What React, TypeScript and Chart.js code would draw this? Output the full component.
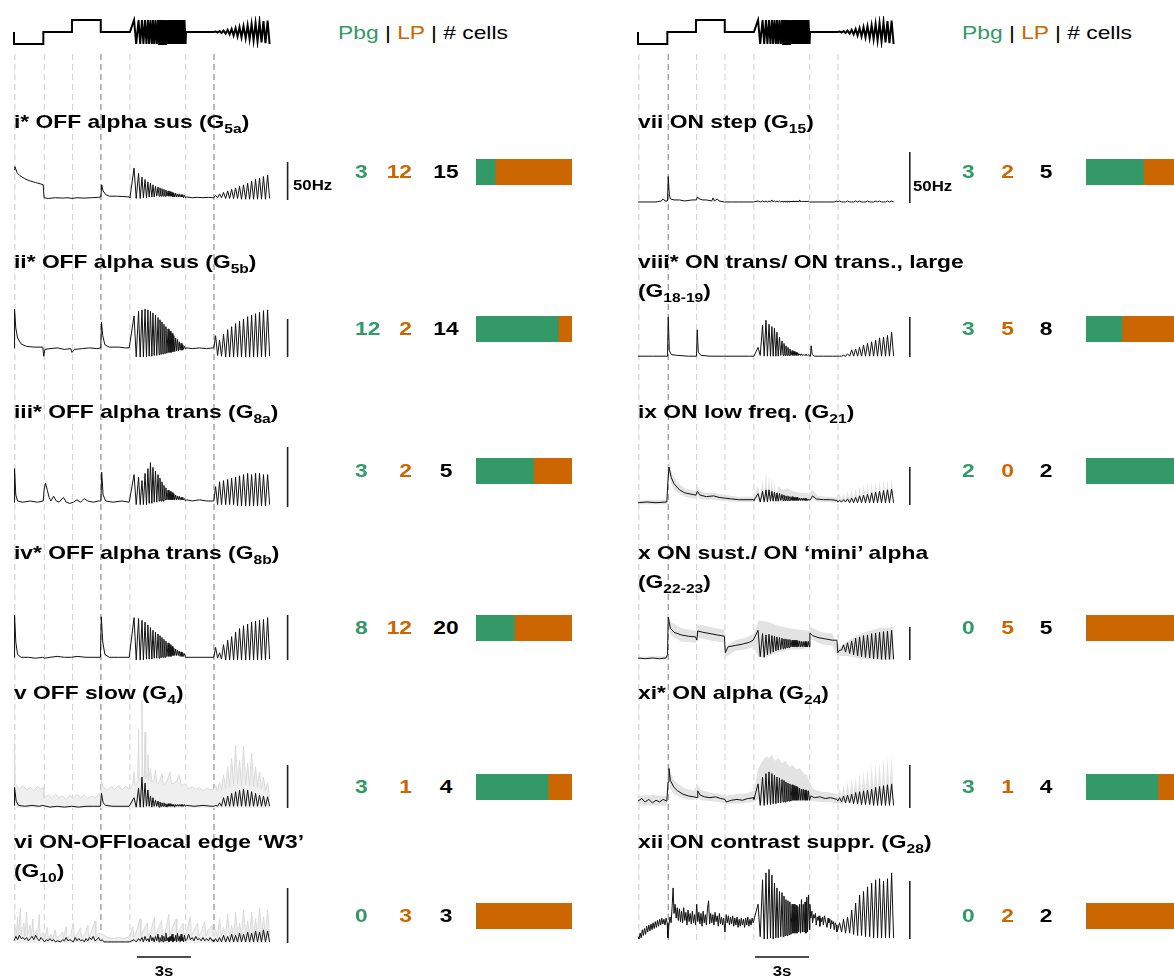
import React, { useEffect, useRef } from 'react';
import { Chart, registerables } from 'chart.js';
Chart.register(...registerables);

const GREEN = '#339966';
const ORANGE = '#cc6600';
const FONT = '"Liberation Sans", Arial, Helvetica, sans-serif';

// ---------- shared sample times (s) ----------
const FM_T = [6.44, 6.67, 6.79, 6.92, 7.01, 7.11, 7.19, 7.28, 7.36, 7.44, 7.51, 7.58, 7.66, 7.72, 7.79, 7.86, 7.93, 8.0, 8.06, 8.11, 8.17, 8.22, 8.28, 8.33, 8.39, 8.44, 8.5, 8.56, 8.61, 8.67, 8.72, 8.78, 8.83, 8.88, 8.93, 8.98, 9.03, 9.08, 9.13, 9.18, 9.23, 9.28, 9.33, 9.38, 9.42, 9.47, 9.53];
const AM_T = [11.1, 11.2, 11.31, 11.42, 11.53, 11.64, 11.76, 11.87, 11.98, 12.09, 12.2, 12.31, 12.42, 12.53, 12.64, 12.75, 12.87, 12.98, 13.09, 13.2, 13.31, 13.42, 13.53, 13.64, 13.75, 13.86, 13.97, 14.09, 14.2];
const DASH_T = [0.05, 1.68, 3.26, 4.83, 6.44, 9.54, 11.11];
const DARK_DASH = [[4.83, 11.11], [1.68]];

// ---------- stimulus (normalised intensity) ----------
const STIM_STEP = [[0, 0.5], [0, 0], [1.63, 0], [1.63, 0.5], [3.22, 0.5], [3.22, 1], [4.82, 1], [4.82, 0.5], [6.44, 0.5]];
const STIM_FM_PK = [1, 1, 1, 1, 1, 1, 1, 1, 1, 1, 1, 1, 1, 1, 1, 1, 1, 1, 1, 1, 1, 1, 1];
const STIM_FM_TR = [0.5, 0, 0, 0, 0, 0, 0, 0, 0, 0, 0, 0, 0, 0, 0, 0, 0, 0, 0, 0, 0, 0, 0, 0];
const STIM_MID = [[9.56, 0.5], [11.1, 0.5]];
const STIM_AM_PK = [0.52, 0.54, 0.56, 0.59, 0.62, 0.66, 0.7, 0.74, 0.78, 0.83, 0.87, 0.91, 0.95, 0.98];
const STIM_AM_TR = [0.5, 0.48, 0.46, 0.43, 0.4, 0.36, 0.32, 0.28, 0.24, 0.2, 0.15, 0.11, 0.07, 0.03, 0.0];

// ---------- cell counts ----------
const PBG = [3, 12, 3, 8, 3, 0, 3, 3, 2, 0, 3, 0];
const LP = [12, 2, 2, 12, 1, 3, 2, 5, 0, 5, 1, 2];
const TOTAL = [15, 14, 5, 20, 4, 3, 5, 8, 2, 5, 4, 2];

const TITLE_PRE = [
  'i* OFF alpha sus (G', 'ii* OFF alpha sus (G', 'iii* OFF alpha trans (G', 'iv* OFF alpha trans (G', 'v OFF slow (G', 'vi ON-OFFloacal edge \u2018W3\u2019\n(G',
  'vii ON step (G', 'viii* ON trans/ ON trans., large\n(G', 'ix ON low freq. (G', 'x ON sust./ ON \u2018mini\u2019 alpha\n(G', 'xi* ON alpha (G', 'xii ON contrast suppr. (G',
];
const TITLE_SUB = ['5a', '5b', '8a', '8b', '4', '10', '15', '18-19', '21', '22-23', '24', '28'];

// ---------- responses (Hz) ----------
const I_STEP = [[0, 40], [0.05, 44], [0.17, 36], [0.33, 32], [0.6, 28], [0.9, 25], [1.2, 23], [1.5, 21], [1.62, 20], [1.67, 3], [1.9, 2], [2.3, 3], [2.7, 2.5], [3.0, 3], [3.22, 2], [3.5, 3], [3.9, 2.5], [4.3, 3], [4.7, 3.5], [4.83, 4], [4.87, 20], [4.95, 12], [5.1, 7], [5.3, 5], [5.7, 5], [6.1, 4.5], [6.4, 4]];
const I_FM_PK = [42, 35, 30, 27, 24, 22, 20, 18, 17, 16, 15, 14, 13, 12, 11, 10, 9, 9, 8, 8, 7, 7, 6];
const I_FM_TR = [3, 2, 2, 3, 3, 4, 4, 4, 5, 5, 5, 5, 5, 5, 5, 5, 4, 4, 4, 4, 4, 4, 3, 3];
const I_MID = [[9.6, 4], [9.9, 3], [10.2, 3.5], [10.5, 3], [10.8, 3.5], [11.05, 3]];
const I_AM_PK = [6, 8, 10, 12, 14, 16, 18, 20, 22, 25, 27, 29, 31, 33];
const I_AM_TR = [3, 3, 3, 2, 2, 2, 2, 1, 1, 1, 1, 1, 1, 1, 2];

const II_STEP = [[0, 12], [0.03, 63], [0.1, 38], [0.2, 25], [0.4, 17], [0.7, 14], [1.1, 13], [1.6, 13], [1.65, 1], [1.72, 10], [2.0, 11], [2.4, 12], [2.8, 10], [3.15, 11], [3.22, 6], [3.35, 10], [3.8, 11], [4.2, 12], [4.6, 11], [4.82, 12], [4.86, 46], [4.93, 28], [5.05, 16], [5.3, 13], [5.8, 13], [6.2, 12], [6.4, 12]];
const II_FM_PK = [54, 60, 62, 63, 62, 60, 58, 55, 52, 49, 46, 43, 40, 37, 34, 31, 28, 25, 23, 20, 18, 16, 14];
const II_FM_TR = [12, 0, 0, 0, 0, 1, 1, 2, 2, 3, 4, 4, 5, 5, 6, 6, 7, 7, 8, 8, 9, 9, 10, 11];
const II_MID = [[9.6, 12], [9.9, 11], [10.3, 12], [10.7, 11], [11.05, 12]];
const II_AM_PK = [28, 22, 30, 36, 40, 44, 47, 50, 53, 55, 57, 59, 61, 62];
const II_AM_TR = [12, 2, 1, 0, 0, 0, 0, 0, 0, 0, 0, 0, 0, 0, 1];

const III_STEP = [[0, 4], [0.03, 32], [0.1, 10], [0.2, 5], [0.5, 4], [0.9, 5], [1.3, 4], [1.62, 5], [1.68, 15], [1.75, 20], [1.85, 14], [1.95, 8], [2.05, 5], [2.2, 9], [2.35, 5], [2.5, 4], [2.75, 8], [2.9, 4], [3.1, 3], [3.3, 4], [3.5, 6], [3.7, 4], [3.9, 7], [4.1, 5], [4.4, 4], [4.7, 5], [4.83, 5], [4.87, 29], [4.95, 10], [5.1, 5], [5.5, 4], [6.0, 5], [6.4, 4]];
const III_FM_PK = [27, 25, 22, 28, 32, 37, 33, 30, 27, 24, 21, 18, 16, 14, 13, 12, 11, 10, 9, 9, 8, 8, 7];
const III_FM_TR = [4, 2, 2, 2, 2, 3, 3, 4, 4, 5, 5, 5, 6, 6, 6, 6, 6, 6, 6, 6, 6, 6, 6, 5];
const III_MID = [[9.6, 6], [9.9, 5], [10.3, 6], [10.7, 5], [11.05, 5]];
const III_AM_PK = [17, 21, 22, 23, 24, 25, 26, 27, 28, 27, 28, 28, 27, 27];
const III_AM_TR = [5, 2, 2, 2, 2, 2, 1, 1, 1, 1, 1, 1, 1, 1, 2];

const IV_STEP = [[0, 3], [0.03, 50], [0.1, 20], [0.2, 6], [0.4, 3], [0.8, 3], [1.2, 2], [1.6, 3], [1.7, 2], [2.0, 3], [2.4, 4], [2.8, 3], [3.2, 3], [3.5, 4], [4.0, 3], [4.5, 3], [4.8, 3], [4.85, 48], [4.93, 20], [5.05, 6], [5.3, 3], [5.8, 3], [6.4, 3]];
const IV_FM_PK = [47, 46, 44, 42, 39, 36, 33, 31, 29, 27, 25, 23, 21, 19, 17, 15, 13, 12, 11, 10, 9, 8, 7];
const IV_FM_TR = [3, 0, 0, 0, 1, 1, 1, 2, 2, 2, 3, 3, 3, 4, 4, 4, 5, 5, 5, 5, 4, 4, 4, 3];
const IV_MID = [[9.6, 3], [10.0, 3], [10.5, 3], [11.0, 3]];
const IV_AM_PK = [14, 8, 17, 22, 26, 31, 35, 38, 40, 42, 43, 44, 45, 47];
const IV_AM_TR = [3, 2, 1, 0, 0, 0, 0, 0, 0, 0, 0, 0, 0, 0, 1];

const V_STEP = [[0, 3], [0.03, 24], [0.12, 8], [0.25, 3], [0.6, 2], [1.0, 3], [1.4, 2], [1.6, 3], [2.0, 1], [2.4, 2], [2.8, 1], [3.2, 2], [3.6, 1], [4.0, 2], [4.4, 2], [4.8, 2], [4.86, 17], [4.95, 6], [5.1, 3], [5.5, 2], [6.0, 2], [6.4, 2]];
const V_FM_PK = [12, 23, 36, 29, 21, 14, 12, 9, 8, 7, 6, 6, 5, 5, 5, 4, 4, 4, 4, 4, 4, 4, 4];
const V_FM_TR = [2, 1, 1, 1, 2, 2, 1, 2, 2, 1, 2, 2, 2, 1, 2, 2, 2, 1, 2, 2, 2, 2, 2, 2];
const V_MID = [[9.6, 3], [10.0, 2], [10.5, 3], [11.0, 2]];
const V_AM_PK = [3, 6, 12, 14, 17, 19, 21, 22, 21, 19, 17, 15, 14, 13];
const V_AM_TR = [2, 2, 2, 2, 2, 2, 2, 2, 2, 2, 2, 2, 2, 2, 2];
const V_SPREAD = [[0, 22], [0.02, 75], [0.06, 28], [0.3, 22], [0.5, 26], [0.7, 21], [0.9, 24], [1.1, 20], [1.3, 25], [1.5, 22], [1.62, 24], [1.66, 12], [1.9, 15], [2.1, 11], [2.3, 16], [2.5, 12], [2.7, 14], [2.9, 10], [3.1, 15], [3.3, 11], [3.5, 16], [3.7, 12], [3.9, 15], [4.1, 11], [4.3, 14], [4.5, 12], [4.7, 15], [4.82, 16], [4.86, 32], [4.95, 24], [5.2, 21], [5.4, 25], [5.6, 22], [5.8, 26], [6.0, 21], [6.2, 25], [6.44, 22], [6.6, 28], [6.67, 42], [6.74, 26], [6.88, 30], [6.92, 92], [6.96, 32], [7.07, 35], [7.11, 125], [7.15, 38], [7.24, 36], [7.28, 88], [7.32, 34], [7.4, 38], [7.44, 62], [7.48, 32], [7.58, 45], [7.66, 30], [7.8, 34], [7.86, 44], [7.93, 28], [8.1, 32], [8.22, 40], [8.3, 27], [8.5, 31], [8.67, 42], [8.75, 28], [9.0, 30], [9.18, 38], [9.3, 26], [9.53, 28], [9.7, 22], [9.9, 25], [10.1, 21], [10.3, 24], [10.5, 20], [10.7, 23], [10.9, 21], [11.1, 22], [11.2, 26], [11.31, 20], [11.42, 30], [11.53, 21], [11.64, 38], [11.76, 22], [11.87, 48], [11.98, 24], [12.09, 58], [12.2, 26], [12.31, 73], [12.42, 28], [12.53, 55], [12.64, 26], [12.75, 72], [12.87, 27], [12.98, 52], [13.09, 26], [13.2, 64], [13.31, 25], [13.42, 48], [13.53, 24], [13.64, 42], [13.75, 22], [13.86, 36], [13.97, 20], [14.09, 30], [14.2, 12]];

const VI_STEP = [[0, 2], [0.1, 6], [0.2, 3], [0.3, 7], [0.4, 4], [0.5, 5], [0.6, 3], [0.7, 5], [0.8, 2], [0.9, 4], [1.0, 6], [1.1, 3], [1.2, 7], [1.3, 4], [1.4, 2], [1.5, 5], [1.6, 3], [1.7, 1], [1.8, 3], [1.9, 2], [2.0, 4], [2.1, 2], [2.2, 3], [2.3, 1], [2.4, 2], [2.6, 1], [2.7, 3], [2.8, 2], [2.9, 5], [3.0, 2], [3.1, 3], [3.2, 2], [3.3, 1], [3.4, 5], [3.5, 2], [3.6, 4], [3.7, 2], [3.8, 3], [3.9, 1], [4.0, 4], [4.1, 2], [4.2, 5], [4.3, 3], [4.4, 6], [4.5, 2], [4.6, 3], [4.7, 5], [4.8, 2], [4.9, 3], [5.0, 1], [5.2, 1], [5.4, 1], [5.6, 1], [5.8, 1], [6.0, 1], [6.2, 1], [6.4, 1]];
const VI_FM_PK = [3, 4, 5, 6, 4, 7, 5, 6, 8, 5, 7, 6, 9, 5, 6, 8, 5, 7, 9, 6, 8, 5, 7];
const VI_FM_TR = [1, 1, 2, 1, 2, 1, 2, 1, 2, 1, 2, 1, 2, 2, 1, 2, 1, 2, 1, 2, 1, 2, 1, 2];
const VI_MID = [[9.6, 3], [9.7, 8], [9.8, 3], [9.9, 5], [10.0, 2], [10.1, 6], [10.2, 3], [10.3, 4], [10.4, 2], [10.5, 5], [10.6, 2], [10.7, 4], [10.8, 2], [10.9, 5], [11.0, 2], [11.05, 3]];
const VI_AM_PK = [4, 5, 7, 6, 8, 7, 9, 8, 10, 9, 11, 10, 12, 11];
const VI_AM_TR = [1, 1, 1, 1, 1, 1, 1, 1, 1, 1, 1, 1, 1, 1, 1];
const VI_SPREAD = [[0, 6], [0.08, 14], [0.12, 5], [0.2, 24], [0.25, 6], [0.35, 32], [0.4, 8], [0.55, 18], [0.6, 6], [0.7, 28], [0.75, 7], [0.9, 16], [0.95, 5], [1.05, 22], [1.1, 6], [1.25, 12], [1.3, 5], [1.4, 26], [1.45, 6], [1.6, 10], [1.7, 4], [1.85, 14], [1.9, 4], [2.05, 8], [2.15, 4], [2.3, 12], [2.35, 4], [2.5, 6], [2.7, 10], [2.75, 4], [2.9, 15], [2.95, 4], [3.15, 8], [3.3, 18], [3.35, 5], [3.55, 9], [3.7, 14], [3.75, 5], [3.95, 8], [4.1, 16], [4.15, 5], [4.3, 10], [4.5, 20], [4.55, 5], [4.7, 9], [4.9, 8], [5.2, 5], [5.5, 4], [5.8, 5], [6.1, 4], [6.44, 6], [6.6, 15], [6.65, 5], [6.8, 10], [7.0, 22], [7.05, 6], [7.2, 12], [7.4, 18], [7.45, 6], [7.6, 10], [7.8, 24], [7.85, 6], [8.0, 12], [8.2, 20], [8.25, 6], [8.4, 10], [8.6, 26], [8.65, 7], [8.8, 14], [9.0, 22], [9.05, 7], [9.2, 12], [9.4, 18], [9.45, 6], [9.6, 10], [9.8, 24], [9.85, 6], [10.0, 12], [10.2, 18], [10.25, 6], [10.4, 10], [10.6, 20], [10.65, 6], [10.8, 12], [11.0, 16], [11.1, 6], [11.2, 12], [11.31, 5], [11.42, 22], [11.53, 6], [11.64, 14], [11.76, 6], [11.87, 26], [11.98, 6], [12.09, 16], [12.2, 6], [12.31, 28], [12.42, 7], [12.53, 18], [12.64, 7], [12.75, 30], [12.87, 7], [12.98, 20], [13.09, 7], [13.2, 28], [13.31, 7], [13.42, 22], [13.53, 7], [13.64, 32], [13.75, 7], [13.86, 24], [13.97, 7], [14.09, 30], [14.2, 6]];

const VII_STEP = [[0, 1], [0.5, 1], [1.0, 1], [1.3, 2], [1.4, 4], [1.5, 2], [1.64, 2], [1.68, 26], [1.74, 8], [1.8, 4], [2.0, 3], [2.3, 3], [2.6, 2], [3.0, 3], [3.25, 3], [3.3, 6], [3.4, 4], [3.6, 3], [3.8, 3], [4.1, 2], [4.17, 5], [4.25, 2], [4.4, 4], [4.5, 2], [4.8, 1], [5.2, 1], [5.6, 1], [6.0, 1], [6.4, 1]];
const VII_FM_PK = [2, 2, 2, 2, 3, 2, 2, 2, 2, 2, 2, 2, 2, 2, 2, 2, 2, 3, 2, 2, 2, 2, 2];
const VII_FM_TR = [1, 1, 1, 1, 1, 1, 1, 1, 1, 1, 1, 1, 1, 1, 1, 1, 1, 1, 1, 1, 1, 1, 1, 1];
const VII_MID = [[9.6, 1], [10.0, 1], [10.4, 1], [10.9, 1], [11.05, 2]];
const VII_AM_PK = [2, 1, 2, 1, 2, 2, 1, 2, 1, 2, 2, 1, 2, 2];
const VII_AM_TR = [1, 1, 1, 1, 1, 1, 1, 1, 1, 1, 1, 1, 1, 1, 1];

const VIII_STEP = [[0, 1], [0.8, 1], [1.64, 1], [1.68, 50], [1.74, 8], [1.85, 3], [2.2, 2], [2.8, 1], [3.25, 1], [3.29, 34], [3.35, 6], [3.5, 2], [4.0, 1], [4.8, 1], [5.5, 1], [6.2, 1], [6.44, 1]];
const VIII_FM_PK = [12, 40, 46, 41, 38, 36, 31, 25, 20, 17, 14, 12, 10, 8, 7, 6, 5, 4, 4, 3, 3, 3, 3];
const VIII_FM_TR = [1, 2, 1, 1, 1, 1, 1, 1, 2, 2, 2, 2, 2, 2, 2, 2, 2, 2, 2, 2, 2, 2, 2, 1];
const VIII_MID = [[9.58, 1], [9.62, 14], [9.68, 3], [9.8, 1], [10.3, 1], [10.8, 1], [11.05, 1]];
const VIII_AM_PK = [1, 2, 4, 9, 10, 12, 15, 17, 19, 21, 24, 25, 27, 31];
const VIII_AM_TR = [1, 1, 1, 1, 1, 1, 1, 1, 1, 1, 1, 1, 1, 1, 1];

const IX_STEP = [[0, 3], [0.5, 4], [1.0, 3], [1.6, 4], [1.66, 30], [1.72, 50], [1.85, 36], [2.0, 28], [2.3, 20], [2.6, 16], [3.0, 14], [3.22, 13], [3.3, 18], [3.45, 13], [3.8, 11], [4.2, 12], [4.5, 10], [4.83, 9], [5.2, 8], [5.6, 7], [6.0, 7], [6.4, 7]];
const IX_FM_PK = [15, 18, 20, 20, 18, 17, 16, 15, 14, 13, 12, 12, 11, 11, 10, 10, 10, 9, 9, 9, 9, 8, 8];
const IX_FM_TR = [6, 4, 4, 4, 5, 5, 5, 5, 6, 6, 6, 6, 6, 6, 6, 6, 6, 6, 6, 6, 6, 6, 6, 6];
const IX_MID = [[9.6, 8], [9.7, 12], [9.9, 8], [10.3, 7], [10.7, 7], [11.05, 6]];
const IX_AM_PK = [6, 7, 8, 9, 10, 12, 13, 14, 16, 17, 18, 19, 20, 21];
const IX_AM_TR = [4, 4, 4, 3, 3, 3, 3, 3, 3, 3, 3, 3, 3, 3, 3];
const IX_BAND = [[0, 1, 6], [1.6, 1, 7], [1.66, 20, 45], [1.72, 40, 62], [1.85, 28, 44], [2.0, 20, 36], [2.3, 14, 27], [2.6, 11, 22], [3.0, 9, 19], [3.22, 8, 18], [3.3, 12, 25], [3.45, 8, 18], [3.8, 7, 16], [4.2, 7, 16], [4.83, 5, 13], [5.6, 4, 11], [6.44, 4, 11], [6.67, 8, 25], [6.79, 2, 10], [6.92, 10, 35], [7.01, 2, 10], [7.11, 12, 48], [7.19, 2, 12], [7.28, 12, 40], [7.36, 3, 12], [7.44, 10, 38], [7.51, 3, 12], [7.58, 9, 30], [7.66, 3, 12], [7.8, 6, 25], [8.0, 4, 20], [8.3, 5, 22], [8.6, 5, 18], [9.0, 5, 16], [9.5, 5, 15], [9.7, 8, 20], [10.0, 4, 12], [10.5, 4, 11], [11.1, 3, 10], [11.2, 4, 14], [11.31, 3, 8], [11.42, 5, 15], [11.53, 3, 8], [11.64, 6, 18], [11.76, 3, 8], [11.87, 7, 20], [11.98, 3, 8], [12.09, 8, 22], [12.2, 3, 8], [12.31, 9, 24], [12.42, 3, 8], [12.53, 10, 26], [12.64, 3, 8], [12.75, 11, 28], [12.87, 3, 8], [12.98, 12, 30], [13.09, 3, 8], [13.2, 13, 31], [13.31, 3, 8], [13.42, 14, 32], [13.53, 3, 8], [13.64, 15, 33], [13.75, 3, 8], [13.86, 16, 34], [13.97, 3, 8], [14.09, 17, 35], [14.2, 3, 8]];

const X_STEP = [[0, 3], [0.4, 2], [0.8, 3], [1.2, 2], [1.55, 3], [1.64, 8], [1.68, 65], [1.8, 48], [2.0, 42], [2.4, 38], [2.8, 36], [3.2, 35], [3.27, 30], [3.32, 44], [3.6, 42], [4.0, 40], [4.4, 38], [4.8, 36], [4.85, 11], [5.0, 20], [5.4, 22], [5.8, 24], [6.2, 27], [6.4, 30]];
const X_FM_PK = [45, 40, 38, 39, 37, 36, 35, 34, 33, 32, 32, 31, 31, 30, 30, 30, 29, 29, 28, 28, 28, 28, 28];
const X_FM_TR = [30, 5, 4, 8, 10, 12, 14, 15, 16, 17, 18, 19, 19, 20, 20, 20, 20, 20, 20, 20, 20, 20, 20, 20];
const X_MID = [[9.55, 41], [9.7, 37], [10.0, 34], [10.4, 32], [10.8, 30], [11.05, 30]];
const X_AM_PK = [15, 23, 26, 29, 33, 35, 37, 38, 40, 41, 42, 43, 44, 45];
const X_AM_TR = [11, 15, 12, 10, 8, 6, 5, 4, 3, 2, 2, 1, 1, 1, 1];
const X_BAND = [[0, 1, 5], [1.6, 1, 6], [1.68, 55, 75], [1.8, 38, 58], [2.4, 28, 48], [3.2, 26, 44], [3.3, 34, 54], [4.0, 30, 50], [4.8, 26, 46], [4.86, 4, 18], [5.4, 14, 30], [6.0, 16, 34], [6.44, 20, 40], [6.7, 4, 60], [7.2, 5, 58], [7.8, 12, 52], [8.4, 16, 48], [9.0, 16, 46], [9.5, 18, 44], [9.6, 32, 50], [10.2, 24, 42], [10.8, 22, 40], [11.1, 6, 18], [11.6, 6, 28], [12.2, 3, 38], [12.8, 1, 44], [13.4, 0, 48], [14.2, 0, 50]];

const XI_STEP = [[0, 8], [0.2, 11], [0.4, 7], [0.6, 10], [0.8, 6], [1.0, 9], [1.2, 7], [1.4, 10], [1.6, 8], [1.67, 30], [1.72, 46], [1.8, 32], [2.0, 24], [2.2, 20], [2.5, 16], [2.8, 14], [3.1, 13], [3.28, 12], [3.32, 20], [3.45, 15], [3.7, 13], [4.0, 12], [4.3, 13], [4.6, 11], [4.83, 10], [4.9, 7], [5.2, 9], [5.5, 10], [5.8, 9], [6.1, 11], [6.44, 12]];
const XI_FM_PK = [28, 36, 40, 42, 40, 38, 36, 35, 33, 32, 30, 29, 28, 27, 26, 25, 24, 23, 22, 22, 21, 20, 20];
const XI_FM_TR = [10, 3, 3, 4, 4, 5, 5, 6, 6, 7, 7, 8, 8, 8, 9, 9, 9, 9, 9, 9, 9, 9, 9, 9];
const XI_MID = [[9.6, 14], [9.8, 12], [10.1, 13], [10.4, 11], [10.7, 12], [11.05, 10]];
const XI_AM_PK = [12, 14, 15, 16, 18, 19, 20, 21, 22, 24, 25, 26, 27, 28];
const XI_AM_TR = [8, 7, 6, 6, 5, 5, 4, 4, 4, 3, 3, 3, 3, 3, 3];
const XI_BAND = [[0, 3, 14], [0.8, 3, 15], [1.6, 3, 14], [1.67, 20, 45], [1.72, 35, 58], [1.8, 22, 42], [2.0, 16, 32], [2.3, 13, 27], [2.7, 10, 22], [3.1, 9, 20], [3.3, 12, 28], [3.5, 9, 21], [4.0, 8, 18], [4.5, 7, 17], [4.83, 5, 14], [5.4, 5, 16], [6.0, 6, 17], [6.44, 7, 20], [6.67, 10, 45], [6.92, 6, 55], [7.11, 6, 60], [7.28, 6, 58], [7.44, 6, 62], [7.6, 6, 55], [7.8, 7, 58], [8.0, 7, 52], [8.2, 8, 55], [8.4, 8, 48], [8.6, 8, 50], [8.8, 8, 45], [9.0, 8, 46], [9.2, 8, 40], [9.4, 8, 38], [9.53, 8, 30], [9.7, 8, 22], [10.2, 7, 19], [10.7, 7, 18], [11.1, 5, 16], [11.2, 6, 22], [11.31, 4, 14], [11.42, 7, 26], [11.53, 4, 14], [11.64, 8, 30], [11.76, 4, 15], [11.87, 9, 33], [11.98, 4, 15], [12.09, 10, 36], [12.2, 4, 16], [12.31, 11, 40], [12.42, 4, 16], [12.53, 12, 44], [12.64, 4, 17], [12.75, 13, 46], [12.87, 4, 17], [12.98, 14, 50], [13.09, 4, 18], [13.2, 15, 52], [13.31, 4, 18], [13.42, 16, 54], [13.53, 4, 18], [13.64, 17, 58], [13.75, 4, 18], [13.86, 18, 60], [13.97, 4, 18], [14.09, 18, 62], [14.2, 4, 12]];

const XII_STEP = [[0, 2], [0.06, 0], [0.12, 5], [0.18, 1], [0.24, 8], [0.3, 3], [0.36, 9], [0.42, 4], [0.48, 11], [0.54, 6], [0.6, 12], [0.66, 7], [0.72, 13], [0.78, 8], [0.84, 14], [0.9, 9], [0.96, 15], [1.02, 10], [1.08, 16], [1.14, 11], [1.2, 17], [1.26, 12], [1.32, 18], [1.38, 13], [1.44, 17], [1.5, 12], [1.56, 18], [1.62, 14], [1.66, 1], [1.72, 12], [1.78, 19], [1.84, 14], [1.9, 29], [1.95, 44], [2.0, 22], [2.06, 30], [2.12, 18], [2.18, 27], [2.24, 16], [2.3, 26], [2.36, 15], [2.42, 24], [2.48, 14], [2.54, 27], [2.6, 16], [2.66, 23], [2.72, 12], [2.78, 25], [2.84, 15], [2.9, 22], [2.96, 13], [3.02, 24], [3.08, 14], [3.14, 21], [3.2, 12], [3.26, 30], [3.32, 15], [3.38, 23], [3.44, 13], [3.5, 22], [3.56, 11], [3.62, 24], [3.68, 14], [3.74, 21], [3.8, 12], [3.86, 26], [3.92, 33], [3.98, 13], [4.04, 22], [4.1, 14], [4.16, 21], [4.22, 12], [4.28, 23], [4.34, 15], [4.4, 20], [4.46, 11], [4.52, 22], [4.58, 13], [4.64, 19], [4.7, 12], [4.76, 18], [4.83, 6], [4.9, 21], [4.96, 14], [5.02, 20], [5.08, 12], [5.14, 19], [5.2, 13], [5.26, 20], [5.32, 11], [5.38, 18], [5.44, 12], [5.5, 19], [5.56, 10], [5.62, 17], [5.68, 11], [5.74, 18], [5.8, 12], [5.86, 17], [5.92, 10], [5.98, 18], [6.04, 12], [6.1, 19], [6.16, 11], [6.22, 17], [6.28, 12], [6.34, 18], [6.4, 14]];
const XII_FM_PK = [30, 51, 57, 60, 55, 48, 44, 41, 40, 37, 34, 33, 32, 30, 30, 29, 28, 30, 34, 30, 32, 36, 38];
const XII_FM_TR = [14, 2, 0, 0, 1, 0, 1, 1, 2, 2, 3, 3, 4, 4, 5, 5, 5, 6, 5, 6, 6, 5, 6, 8];
const XII_MID = [[9.55, 30], [9.6, 18], [9.66, 24], [9.7, 14], [9.76, 21], [9.8, 18], [9.86, 22], [9.9, 12], [9.96, 19], [10.0, 16], [10.06, 20], [10.1, 11], [10.16, 18], [10.2, 15], [10.26, 19], [10.3, 12], [10.36, 20], [10.4, 17], [10.46, 13], [10.5, 10], [10.56, 18], [10.6, 14], [10.66, 17], [10.7, 9], [10.76, 16], [10.8, 13], [10.86, 15], [10.9, 8], [10.96, 14], [11.0, 12], [11.05, 6]];
const XII_AM_PK = [14, 17, 19, 25, 31, 38, 41, 45, 48, 51, 52, 50, 52, 57];
const XII_AM_TR = [8, 6, 5, 5, 4, 3, 3, 2, 2, 1, 1, 1, 1, 1, 1];

const SCALE_HZ = 50;
const SCALE_S = 3;

// ---------- helpers ----------
type Pt = { x: number; y: number };
const pts = (a: number[][]): Pt[] => a.map(([x, y]) => ({ x, y }));
const weave = (t: number[], tr: number[], pk: number[]): Pt[] =>
  t.map((x, i) => ({ x, y: i % 2 === 0 ? tr[i >> 1] : pk[i >> 1] }));
const build = (step: number[][], fmTr: number[], fmPk: number[], mid: number[][], amTr: number[], amPk: number[]): Pt[] => [
  ...pts(step), ...weave(FM_T, fmTr, fmPk), ...pts(mid), ...weave(AM_T, amTr, amPk),
];

const TRACES: Pt[][] = [
  build(I_STEP, I_FM_TR, I_FM_PK, I_MID, I_AM_TR, I_AM_PK),
  build(II_STEP, II_FM_TR, II_FM_PK, II_MID, II_AM_TR, II_AM_PK),
  build(III_STEP, III_FM_TR, III_FM_PK, III_MID, III_AM_TR, III_AM_PK),
  build(IV_STEP, IV_FM_TR, IV_FM_PK, IV_MID, IV_AM_TR, IV_AM_PK),
  build(V_STEP, V_FM_TR, V_FM_PK, V_MID, V_AM_TR, V_AM_PK),
  build(VI_STEP, VI_FM_TR, VI_FM_PK, VI_MID, VI_AM_TR, VI_AM_PK),
  build(VII_STEP, VII_FM_TR, VII_FM_PK, VII_MID, VII_AM_TR, VII_AM_PK),
  build(VIII_STEP, VIII_FM_TR, VIII_FM_PK, VIII_MID, VIII_AM_TR, VIII_AM_PK),
  build(IX_STEP, IX_FM_TR, IX_FM_PK, IX_MID, IX_AM_TR, IX_AM_PK),
  build(X_STEP, X_FM_TR, X_FM_PK, X_MID, X_AM_TR, X_AM_PK),
  build(XI_STEP, XI_FM_TR, XI_FM_PK, XI_MID, XI_AM_TR, XI_AM_PK),
  build(XII_STEP, XII_FM_TR, XII_FM_PK, XII_MID, XII_AM_TR, XII_AM_PK),
];
const SPREADS: (number[][] | null)[] = [null, null, null, null, V_SPREAD, VI_SPREAD, null, null, null, null, null, null];
const BANDS: (number[][] | null)[] = [null, null, null, null, null, null, null, null, IX_BAND, X_BAND, XI_BAND, null];
const STIM: Pt[] = build(STIM_STEP, STIM_FM_TR, STIM_FM_PK, STIM_MID, STIM_AM_TR, STIM_AM_PK);

// ---------- layout (pixels) ----------
const W = 1174, H = 978;
const COL_X = [14, 638];
const PX_PER_S = 18;
const X_MAX = 16;
const SB_T = [15.2, 15.1];
const TIMEBAR_T0 = [6.83, 6.5];
const TIMEBAR_Y = 957;
const TITLE_BASE = [128, 268, 418, 559, 699, 848];
const ROW_Y = [172, 329, 471, 628, 787, 916];
const NUM_X = [[355, 412, 446], [962, 1014, 1046]];
const BAR_X = [476, 1086];
const GEOM = [
  { B: 200, L: 38, T: 140 }, { B: 357, L: 38, T: 290 }, { B: 507, L: 60, T: 430 },
  { B: 660, L: 45, T: 580 }, { B: 808, L: 43, T: 690 }, { B: 943, L: 55, T: 880, Bc: 962 },
  { B: 203, L: 51, T: 140 }, { B: 357, L: 40, T: 295 }, { B: 505, L: 38, T: 425 },
  { B: 660, L: 33, T: 590 }, { B: 808, L: 43, T: 705 }, { B: 939, L: 58, T: 855, Bc: 962 },
];

const baseOpts = (pad: number, xmin: number, xmax: number, ymin: number, ymax: number) => ({
  animation: false as const,
  responsive: false,
  maintainAspectRatio: false,
  events: [] as any[],
  layout: { padding: pad },
  plugins: { legend: { display: false }, tooltip: { enabled: false }, title: { display: false } },
  scales: {
    x: { type: 'linear' as const, display: false, min: xmin, max: xmax },
    y: { type: 'linear' as const, display: false, min: ymin, max: ymax },
  },
  elements: { point: { radius: 0 }, line: { tension: 0, borderJoinStyle: 'round' as const } },
});

function ChartBox({ left, top, width, height, pad, make }: { left: number; top: number; width: number; height: number; pad: number; make: () => any }) {
  const ref = useRef<HTMLCanvasElement>(null);
  useEffect(() => {
    const c = new Chart(ref.current as HTMLCanvasElement, make());
    return () => c.destroy();
  }, []);
  const w = width + 2 * pad, h = height + 2 * pad;
  return (
    <canvas ref={ref} width={w} height={h}
      style={{ position: 'absolute', left: left - pad, top: top - pad, width: w, height: h }} />
  );
}

function Txt({ x, base, size, bold, color, align, children }: any) {
  const tf = align === 'center' ? 'translateX(-50%) scaleX(1.2)' : align === 'right' ? 'translateX(-100%) scaleX(1.2)' : 'scaleX(1.2)';
  const origin = align === 'center' ? 'center' : align === 'right' ? 'right' : 'left';
  return (
    <div style={{
      position: 'absolute', left: x, top: base - 0.8465 * size, fontFamily: FONT, fontSize: size,
      lineHeight: `${size}px`, fontWeight: bold ? 700 : 400, color: color || '#000', whiteSpace: 'nowrap',
      transform: tf, transformOrigin: origin,
    }}>{children}</div>
  );
}

function traceConfig(i: number) {
  const col = i < 6 ? 0 : 1;
  const g: any = GEOM[i];
  const Bc = g.Bc ?? g.B + 2;
  const ymax = (SCALE_HZ * (g.B - g.T)) / g.L;
  const ymin = (-SCALE_HZ * (Bc - g.B)) / g.L;
  const ds: any[] = [];
  const band = BANDS[i];
  if (band) {
    ds.push({ data: band.map(([x, lo, hi]) => ({ x, y: hi })), borderWidth: 0, borderColor: 'rgba(0,0,0,0)', backgroundColor: '#e3e3e3', fill: '+1', order: 5, clip: false });
    ds.push({ data: band.map(([x, lo]) => ({ x, y: lo })), borderWidth: 0, borderColor: 'rgba(0,0,0,0)', fill: false, order: 6, clip: false });
  }
  const spread = SPREADS[i];
  if (spread) {
    ds.push({ data: pts(spread), borderWidth: 1, borderColor: '#dadada', backgroundColor: '#efefef', fill: 'origin', order: 5, clip: false });
  }
  ds.push({ data: TRACES[i], borderWidth: 1, borderColor: '#111', fill: false, order: 1, clip: false });
  ds.push({ data: [{ x: SB_T[col], y: 0 }, { x: SB_T[col], y: SCALE_HZ }], borderWidth: 1.6, borderColor: '#222', fill: false, order: 0, clip: false });
  if (g.Bc) {
    const yb = (-SCALE_HZ * (TIMEBAR_Y - g.B)) / g.L;
    ds.push({ data: [{ x: TIMEBAR_T0[col], y: yb }, { x: TIMEBAR_T0[col] + SCALE_S, y: yb }], borderWidth: 1.3, borderColor: '#111', fill: false, order: 0, clip: false });
  }
  return { type: 'line', data: { datasets: ds }, options: baseOpts(4, 0, X_MAX, ymin, ymax) };
}

function dashConfig(col: number) {
  const ds = DASH_T.map((t) => {
    const dark = DARK_DASH[col].includes(t);
    return { data: [{ x: t, y: 0 }, { x: t, y: 1 }], borderWidth: 1, borderColor: dark ? '#7a7a7a' : '#cdcdcd', borderDash: [6, 4], fill: false, clip: false };
  });
  return { type: 'line', data: { datasets: ds }, options: baseOpts(2, 0, X_MAX, 0, 1) };
}

function stimConfig() {
  return {
    type: 'line',
    data: { datasets: [{ data: STIM, borderWidth: 2, borderColor: '#000', fill: false, clip: false, borderJoinStyle: 'miter' }] },
    options: baseOpts(4, 0, X_MAX, 0, 1),
  };
}

function barConfig(i: number) {
  return {
    type: 'bar',
    data: {
      labels: [''],
      datasets: [
        { data: [PBG[i]], backgroundColor: GREEN, borderWidth: 0, barPercentage: 1, categoryPercentage: 1 },
        { data: [LP[i]], backgroundColor: ORANGE, borderWidth: 0, barPercentage: 1, categoryPercentage: 1 },
      ],
    },
    options: {
      indexAxis: 'y', animation: false, responsive: false, maintainAspectRatio: false, events: [],
      layout: { padding: 0 },
      plugins: { legend: { display: false }, tooltip: { enabled: false } },
      scales: { x: { stacked: true, display: false, min: 0, max: TOTAL[i] }, y: { stacked: true, display: false } },
    },
  };
}

function Title({ i }: { i: number }) {
  const col = i < 6 ? 0 : 1;
  const row = i % 6;
  const lines = TITLE_PRE[i].split('\n');
  return (
    <>
      {lines.map((ln, k) => (
        <Txt key={k} x={COL_X[col]} base={TITLE_BASE[row] + k * 29} size={19} bold>
          {ln}
          {k === lines.length - 1 && (
            <>
              <span style={{ fontSize: 13, position: 'relative', top: 5 }}>{TITLE_SUB[i]}</span>)
            </>
          )}
        </Txt>
      ))}
    </>
  );
}

export default function App() {
  const idx = [0, 1, 2, 3, 4, 5, 6, 7, 8, 9, 10, 11];
  return (
    <div style={{ position: 'absolute', left: 0, top: 0, width: W, height: H, overflow: 'hidden', background: '#fff' }}>
      {[0, 1].map((col) => (
        <ChartBox key={'d' + col} left={COL_X[col]} top={52} width={X_MAX * PX_PER_S} height={888} pad={2} make={() => dashConfig(col)} />
      ))}
      {[0, 1].map((col) => (
        <ChartBox key={'s' + col} left={COL_X[col]} top={20} width={X_MAX * PX_PER_S} height={24} pad={4} make={stimConfig} />
      ))}
      {idx.map((i) => {
        const col = i < 6 ? 0 : 1;
        const g: any = GEOM[i];
        const Bc = g.Bc ?? g.B + 2;
        return <ChartBox key={'t' + i} left={COL_X[col]} top={g.T} width={X_MAX * PX_PER_S} height={Bc - g.T} pad={4} make={() => traceConfig(i)} />;
      })}
      {idx.map((i) => {
        const col = i < 6 ? 0 : 1;
        const row = i % 6;
        return <ChartBox key={'b' + i} left={BAR_X[col]} top={ROW_Y[row] - 13} width={96} height={26} pad={0} make={() => barConfig(i)} />;
      })}
      {idx.map((i) => <Title key={'ti' + i} i={i} />)}
      {idx.map((i) => {
        const col = i < 6 ? 0 : 1;
        const row = i % 6;
        const b = ROW_Y[row] + 6;
        return (
          <React.Fragment key={'n' + i}>
            <Txt x={NUM_X[col][0]} base={b} size={19} bold color={GREEN} align="left">{PBG[i]}</Txt>
            <Txt x={NUM_X[col][1]} base={b} size={19} bold color={ORANGE} align="right">{LP[i]}</Txt>
            <Txt x={NUM_X[col][2]} base={b} size={19} bold align="center">{TOTAL[i]}</Txt>
          </React.Fragment>
        );
      })}
      {[0, 1].map((col) => (
        <Txt key={'lg' + col} x={[338, 962][col]} base={39} size={19}>
          <span style={{ color: GREEN }}>Pbg</span> | <span style={{ color: ORANGE }}>LP</span> | # cells
        </Txt>
      ))}
      <Txt x={293} base={190} size={14} bold>50Hz</Txt>
      <Txt x={913} base={191} size={14} bold>50Hz</Txt>
      <Txt x={164} base={976} size={14} bold align="center">{SCALE_S}s</Txt>
      <Txt x={782} base={976} size={14} bold align="center">{SCALE_S}s</Txt>
    </div>
  );
}
